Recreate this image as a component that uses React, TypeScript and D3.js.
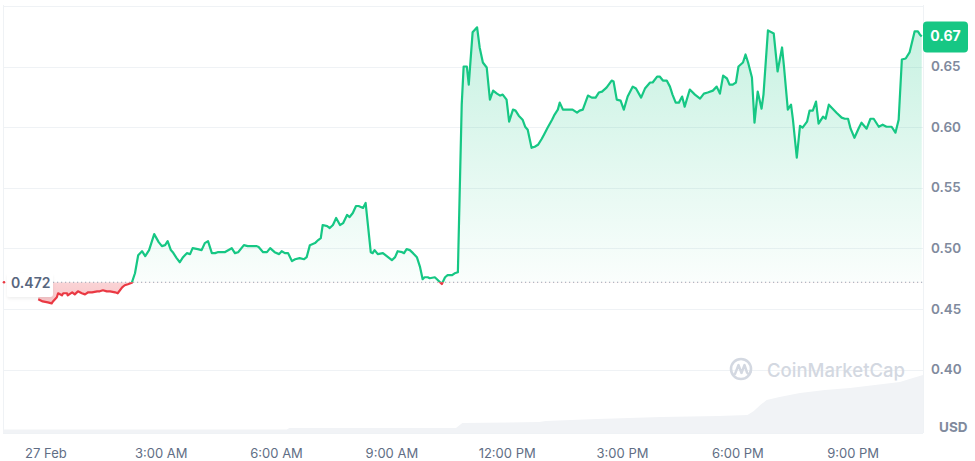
import React from "react";
import * as d3 from "d3";

// minutes from midnight 27 Feb
const times = [
  -12, -5, 3, 9, 11, 17, 19, 25, 27, 33, 34, 41, 45, 50, 56, 61, 66, 72, 80, 84, 89, 95, 100, 108, 112, 119, 123, 128, 134,
  139, 144, 150, 155, 161, 169, 176, 181, 186, 190, 195, 198, 204, 209, 214, 220, 225, 229, 237, 243, 248, 253, 259, 264,
  268, 279, 290, 295, 300, 309, 315, 329, 332, 339, 345, 350, 357, 364, 368, 373, 378, 384, 389, 396, 403, 407, 412, 420,
  425, 429, 432, 439, 443, 448, 453, 459, 464, 470, 474, 479, 484, 488, 495, 499, 507, 510, 513, 518, 526, 532, 540, 545,
  549, 556, 559, 563, 568, 573, 579, 584, 588, 591, 596, 599, 607, 612, 618, 623, 627, 634, 638, 643, 649, 652, 657, 660,
  666, 673, 677, 682, 688, 693, 698, 704, 709, 713, 719, 723, 729, 733, 738, 744, 748, 752, 758, 763, 768, 774, 779, 783,
  790, 794, 799, 802, 807, 813, 822, 829, 833, 838, 846, 852, 858, 863, 868, 875, 883, 886, 891, 897, 902, 908, 916, 921,
  929, 935, 943, 947, 954, 958, 963, 969, 974, 978, 983, 988, 993, 997, 1005, 1013, 1021, 1027, 1033, 1041, 1047, 1052,
  1057, 1063, 1067, 1072, 1077, 1081, 1088, 1092, 1096, 1102, 1106, 1111, 1117, 1120, 1127, 1136, 1142, 1149, 1152, 1158,
  1163, 1166, 1172, 1177, 1181, 1188, 1192, 1197, 1202, 1206, 1213, 1217, 1222, 1228, 1234, 1242, 1247, 1252, 1256, 1262,
  1269, 1273, 1281, 1287, 1292, 1300, 1306, 1312, 1320, 1326, 1331, 1336, 1342, 1348, 1356, 1361, 1364, 1367,
];

const prices = [
  0.4579, 0.4562, 0.4554, 0.4546, 0.4562, 0.4596, 0.4629, 0.4612, 0.4629, 0.4629, 0.4612, 0.4637, 0.462, 0.4645, 0.4629,
  0.462, 0.4637, 0.4637, 0.4645, 0.4645, 0.4654, 0.4645, 0.4645, 0.4637, 0.4629, 0.4678, 0.4695, 0.4703, 0.4715,
  0.4794, 0.4943, 0.4976, 0.4935, 0.4985, 0.5117, 0.5051, 0.5018, 0.5026, 0.5059, 0.4985, 0.4968, 0.4919, 0.4885, 0.4927,
  0.496, 0.4952, 0.5001, 0.4993, 0.4985, 0.5043, 0.5059, 0.496, 0.496, 0.4968, 0.4968, 0.5001, 0.496, 0.4968, 0.5026,
  0.5018, 0.5018, 0.501, 0.4968, 0.4968, 0.5001, 0.4968, 0.4952, 0.4976, 0.496, 0.496, 0.4894, 0.491, 0.4919, 0.491,
  0.4927, 0.5026, 0.5043, 0.5068, 0.5084, 0.5192, 0.5183, 0.5167, 0.5192, 0.525, 0.5192, 0.5208, 0.5275, 0.5258, 0.5291,
  0.5349, 0.5349, 0.5333, 0.5374, 0.4968, 0.496, 0.4985, 0.4952, 0.496, 0.4935, 0.4902, 0.4927, 0.4976, 0.4968, 0.496,
  0.4993, 0.4985, 0.496, 0.4927, 0.4844, 0.4745, 0.4761, 0.4761, 0.4753, 0.4761, 0.4736, 0.4705, 0.4761, 0.4778, 0.4778,
  0.4794, 0.4803, 0.6185, 0.65, 0.65, 0.6351, 0.6782, 0.6823, 0.6657, 0.6533, 0.6492, 0.6227, 0.6301, 0.6276, 0.626,
  0.6268, 0.6227, 0.6045, 0.6144, 0.6136, 0.6094, 0.6061, 0.6003, 0.5978, 0.5829, 0.5838, 0.5854, 0.5904, 0.5954, 0.5995,
  0.6061, 0.6103, 0.6144, 0.6202, 0.6144, 0.6144, 0.6144, 0.6119, 0.6136, 0.6144, 0.626, 0.6243, 0.6243, 0.6285, 0.6293,
  0.6326, 0.6384, 0.6376, 0.6227, 0.6218, 0.6144, 0.6252, 0.6334, 0.6318, 0.6243, 0.6318, 0.6368, 0.6368, 0.6417, 0.6417,
  0.6384, 0.6384, 0.6334, 0.6268, 0.6202, 0.6202, 0.6252, 0.6169, 0.631, 0.6268, 0.6235, 0.6276, 0.6285, 0.6301, 0.6334,
  0.6276, 0.6425, 0.6401, 0.6351, 0.6351, 0.6368, 0.65, 0.6533, 0.6599, 0.6533, 0.6409, 0.6036, 0.6293, 0.6152, 0.6268,
  0.6798, 0.6773, 0.6459, 0.6657, 0.65, 0.6144, 0.6185, 0.6061, 0.5747, 0.6011, 0.5995, 0.6045, 0.6136, 0.6136, 0.621,
  0.6028, 0.6086, 0.6069, 0.6185, 0.6152, 0.6119, 0.6078, 0.6069, 0.6069, 0.5987, 0.5912, 0.5995, 0.6036, 0.5987, 0.6069,
  0.6069, 0.6003, 0.602, 0.6003, 0.6003, 0.5954, 0.6061, 0.6558, 0.6566, 0.6616, 0.679, 0.679, 0.6765, 0.6748,
];

const volTimes = [-67, 376, 380, 640, 650, 770, 780, 860, 960, 1050, 1095, 1105, 1115, 1125, 1145, 1177, 1216, 1255, 1294, 1333, 1348, 1369];
const volValues = [3.5, 3.5, 5, 5, 10, 11, 12, 14, 16, 17, 18, 22, 28, 33, 36, 40, 43, 45, 48, 51, 54, 58];

const baseline = 0.472;
const baselineLabel = "0.472";
const lastLabel = "0.67";
const yTicks = [0.4, 0.45, 0.5, 0.55, 0.6, 0.65];
const yGrid = [0.4, 0.45, 0.5, 0.55, 0.6, 0.65, 0.7];
const xTicks = [0, 180, 360, 540, 720, 900, 1080, 1260];
const xTickLabels = ["27 Feb", "3:00 AM", "6:00 AM", "9:00 AM", "12:00 PM", "3:00 PM", "6:00 PM", "9:00 PM"];
const unitLabel = "USD";
const watermark = "CoinMarketCap";

const GREEN = "#16c784";
const RED = "#ea3943";
const GRID = "#eff2f5";

export default function App() {
  const W = 975, H = 461;
  const left = 3, right = 923, top = 5, bottom = 433;
  const x = d3.scaleLinear().domain([-67, 1369]).range([left, right]);
  const y = d3.scaleLinear().domain([0.4, 0.65]).range([369.5, 66.5]);
  const yv = d3.scaleLinear().domain([0, 60]).range([bottom, bottom - 60]);

  const data = times.map((t, i) => ({ t, p: prices[i] }));
  const vol = volTimes.map((t, i) => ({ t, v: volValues[i] }));
  const yb = y(baseline);

  const line = d3.line<{ t: number; p: number }>().x((d) => x(d.t)).y((d) => y(d.p));
  const area = d3
    .area<{ t: number; p: number }>()
    .x((d) => x(d.t))
    .y0(yb)
    .y1((d) => y(d.p));
  const volArea = d3
    .area<{ t: number; v: number }>()
    .x((d) => x(d.t))
    .y0(bottom)
    .y1((d) => yv(d.v));

  const last = data[data.length - 1];
  const yLast = y(last.p);

  return (
    <svg width={W} height={H} style={{ position: "absolute", left: 0, top: 0, background: "#fff" }} fontFamily="Inter, sans-serif">
      <defs>
        <clipPath id="above">
          <rect x={0} y={0} width={W} height={yb} />
        </clipPath>
        <clipPath id="below">
          <rect x={0} y={yb} width={W} height={H - yb} />
        </clipPath>
        <clipPath id="plot">
          <rect x={left} y={top} width={right - left} height={bottom - top} />
        </clipPath>
        <linearGradient id="gGreen" gradientUnits="userSpaceOnUse" x1={0} y1={28} x2={0} y2={yb}>
          <stop offset="0" stopColor={GREEN} stopOpacity={0.24} />
          <stop offset="1" stopColor={GREEN} stopOpacity={0.02} />
        </linearGradient>
        <linearGradient id="gRed" gradientUnits="userSpaceOnUse" x1={0} y1={yb} x2={0} y2={305}>
          <stop offset="0" stopColor={RED} stopOpacity={0.22} />
          <stop offset="1" stopColor={RED} stopOpacity={0.3} />
        </linearGradient>
        <filter id="shadow" x="-20%" y="-20%" width="140%" height="160%">
          <feDropShadow dx="0" dy="2" stdDeviation="1.5" floodColor="#000" floodOpacity="0.06" />
        </filter>
      </defs>

      {/* grid */}
      {yGrid.map((v) => (
        <line key={v} x1={left} x2={right} y1={Math.round(y(v)) + 0.5} y2={Math.round(y(v)) + 0.5} stroke={GRID} strokeWidth={1} />
      ))}
      <line x1={left + 0.5} x2={left + 0.5} y1={top} y2={bottom} stroke={GRID} />
      <line x1={right + 0.5} x2={right + 0.5} y1={top} y2={bottom} stroke={GRID} />
      <line x1={left} x2={right} y1={bottom + 0.5} y2={bottom + 0.5} stroke={GRID} />

      {/* volume */}
      <path d={volArea(vol) || ""} fill="#f1f3f6" clipPath="url(#plot)" />

      {/* watermark */}
      <g>
        <circle cx={741} cy={369} r={10} fill="none" stroke="#d3d8e1" strokeWidth={2.6} />
        <path d="M735 374 L738.5 365 L741.5 373 L744.5 365 L747 372.5 Q748.5 375.5 750.5 372" fill="none" stroke="#d3d8e1" strokeWidth={2.4} strokeLinejoin="round" strokeLinecap="round" />
        <text x={767} y={377} fontSize={18.5} fontWeight={500} fill="#d3d8e1">
          {watermark}
        </text>
      </g>

      {/* areas */}
      <path d={area(data) || ""} fill="url(#gGreen)" clipPath="url(#above)" />
      <path d={area(data) || ""} fill="url(#gRed)" clipPath="url(#below)" />

      {/* baseline */}
      <line x1={53} x2={right} y1={yb} y2={yb} stroke="#9aa3b2" strokeWidth={1.2} strokeDasharray="1.2 2.8" />

      {/* lines */}
      <path d={line(data) || ""} fill="none" stroke={GREEN} strokeWidth={2.2} strokeLinejoin="round" clipPath="url(#above)" />
      <path d={line(data) || ""} fill="none" stroke={RED} strokeWidth={2.2} strokeLinejoin="round" clipPath="url(#below)" />

      {/* baseline label */}
      <rect x={7} y={273} width={46} height={24} rx={3} fill="#fff" filter="url(#shadow)" />
      <circle cx={4} cy={yb} r={1.3} fill={RED} />
      <text x={11} y={yb + 2} fontSize={14} fontWeight={600} fill="#58667e" dominantBaseline="middle">
        {baselineLabel}
      </text>

      {/* y labels */}
      {yTicks.map((v) => (
        <text key={v} x={931} y={y(v) + 1} fontSize={13.5} fontWeight={600} fill="#808a9d" dominantBaseline="middle">
          {v.toFixed(2)}
        </text>
      ))}
      <text x={939} y={428} fontSize={13.5} fontWeight={700} fill="#808a9d" dominantBaseline="middle">
        {unitLabel}
      </text>

      {/* x labels */}
      {xTicks.map((t, i) => (
        <text key={t} x={x(t)} y={454} fontSize={13} fill="#616e85" textAnchor="middle" dominantBaseline="middle">
          {xTickLabels[i]}
        </text>
      ))}

      {/* last price badge */}
      <rect x={923} y={yLast - 15} width={45} height={31} rx={4} fill={GREEN} />
      <text x={945.5} y={yLast + 1} fontSize={14} fontWeight={700} fill="#fff" textAnchor="middle" dominantBaseline="middle">
        {lastLabel}
      </text>
    </svg>
  );
}
